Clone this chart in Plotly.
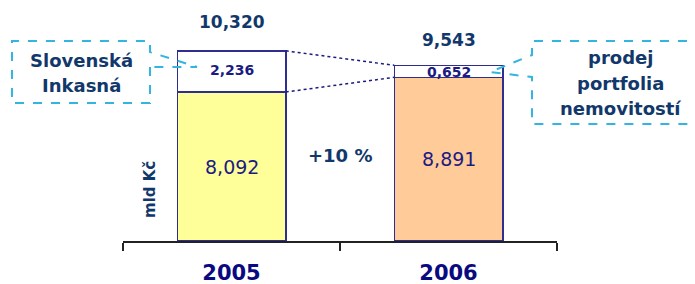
import plotly.graph_objects as go

# ---- data ----
years = ["2005", "2006"]
core_values = [8.092, 8.891]          # mld Kč
extra_values = [2.236, 0.652]         # one-off items
totals = [10.320, 9.543]
callout_left = ["Slovenská", "Inkasná"]
callout_right = ["prodej", "portfolia", "nemovitostí"]
unit_label = "mld Kč"

def cz(v):
    return f"{v:.3f}".replace(".", ",")

growth = round((core_values[1] / core_values[0] - 1) * 100)
growth_label = f"+{growth} %"

# ---- layout geometry ----
W, H = 695, 284
L, R, T, B = 123, 138, 0, 43
PW, PH = W - L - R, H - T - B
YMAX = 13.09

def px(xp):
    return (xp - L) / PW

def py(yp):
    return (H - B - yp) / PH

TXT = "#12386B"
NAVY = "#1B1B82"
EDGE = "#2E2E90"
CYAN = "#33B5E0"
FONT = "DejaVu Sans"

fig = go.Figure()
fig.add_bar(x=years, y=core_values, width=0.5,
            marker=dict(color=["#FFFF99", "#FFCC99"], line=dict(color=EDGE, width=1.5)),
            hoverinfo="skip")
fig.add_bar(x=years, y=extra_values, width=0.5,
            marker=dict(color="white", line=dict(color=EDGE, width=1.5)),
            hoverinfo="skip")

ann = []
for i, y in enumerate(years):
    ann.append(dict(x=i, y=core_values[i] / 2, text=cz(core_values[i]), showarrow=False,
                    font=dict(family=FONT, size=19, color=NAVY)))
    ann.append(dict(x=i, y=core_values[i] + extra_values[i] / 2, text=f"<b>{cz(extra_values[i])}</b>",
                    showarrow=False, font=dict(family=FONT, size=14, color=NAVY),
                    yshift=[1, -1][i]))
    ann.append(dict(x=i, y=core_values[i] + extra_values[i], text=f"<b>{cz(totals[i])}</b>",
                    showarrow=False, yanchor="bottom", yshift=[17, 13][i],
                    font=dict(family=FONT, size=17, color=TXT)))

ann.append(dict(x=0.5, y=4.67, text=f"<b>{growth_label}</b>", showarrow=False,
                font=dict(family=FONT, size=18, color=TXT)))
ann.append(dict(xref="paper", yref="paper", x=px(150), y=py(190), text=f"<b>{unit_label}</b>",
                xanchor="center", yanchor="middle",
                textangle=-90, showarrow=False, font=dict(family=FONT, size=15, color=TXT)))

for k, t in enumerate(callout_left):
    ann.append(dict(xref="paper", yref="paper", x=px(81), y=py(60 + 26 * k), text=f"<b>{t}</b>",
                    xanchor="center", yanchor="middle",
                    showarrow=False, font=dict(family=FONT, size=18, color=TXT)))
for k, t in enumerate(callout_right):
    ann.append(dict(xref="paper", yref="paper", x=px(620), y=py(57 + 26 * k), text=f"<b>{t}</b>",
                    xanchor="center", yanchor="middle",
                    showarrow=False, font=dict(family=FONT, size=18, color=TXT)))

shapes = []
# dotted connectors between bars
tops = [c + e for c, e in zip(core_values, extra_values)]
for a0, a1 in [(tops[0], tops[1]), (core_values[0], core_values[1])]:
    shapes.append(dict(type="line", xref="x", yref="y", x0=0.25, x1=0.75, y0=a0, y1=a1,
                       line=dict(color=NAVY, width=1.5, dash="dot")))

def path(points):
    return "M " + " L ".join(f"{px(a):.4f},{py(b):.4f}" for a, b in points)

left_pts = [(150, 67), (150, 103), (12, 103), (12, 41), (150, 41), (150, 52), (197, 67), (150, 67)]
right_pts = [(705, 41), (532, 41), (532, 55), (490, 72), (532, 77), (532, 124), (705, 124)]
for pts in (left_pts, right_pts):
    shapes.append(dict(type="path", xref="paper", yref="paper", path=path(pts),
                       line=dict(color=CYAN, width=2, dash="dash")))

fig.update_layout(
    width=W, height=H, margin=dict(l=L, r=R, t=T, b=B),
    barmode="stack", showlegend=False,
    paper_bgcolor="white", plot_bgcolor="white",
    annotations=ann, shapes=shapes,
    xaxis=dict(range=[-0.5, 1.5], tickson="boundaries", ticks="outside", ticklen=8,
               tickcolor="#222", tickwidth=1.5, showline=True, linecolor="#222", linewidth=1.5,
               showgrid=False, ticklabelstandoff=12,
               tickfont=dict(family=FONT, size=21, color="#0A0A80", weight="bold")),
    yaxis=dict(range=[0, YMAX], visible=False),
)
fig.write_html("out.html", config={"displayModeBar": False},
               post_script="document.body.style.margin='0';")
